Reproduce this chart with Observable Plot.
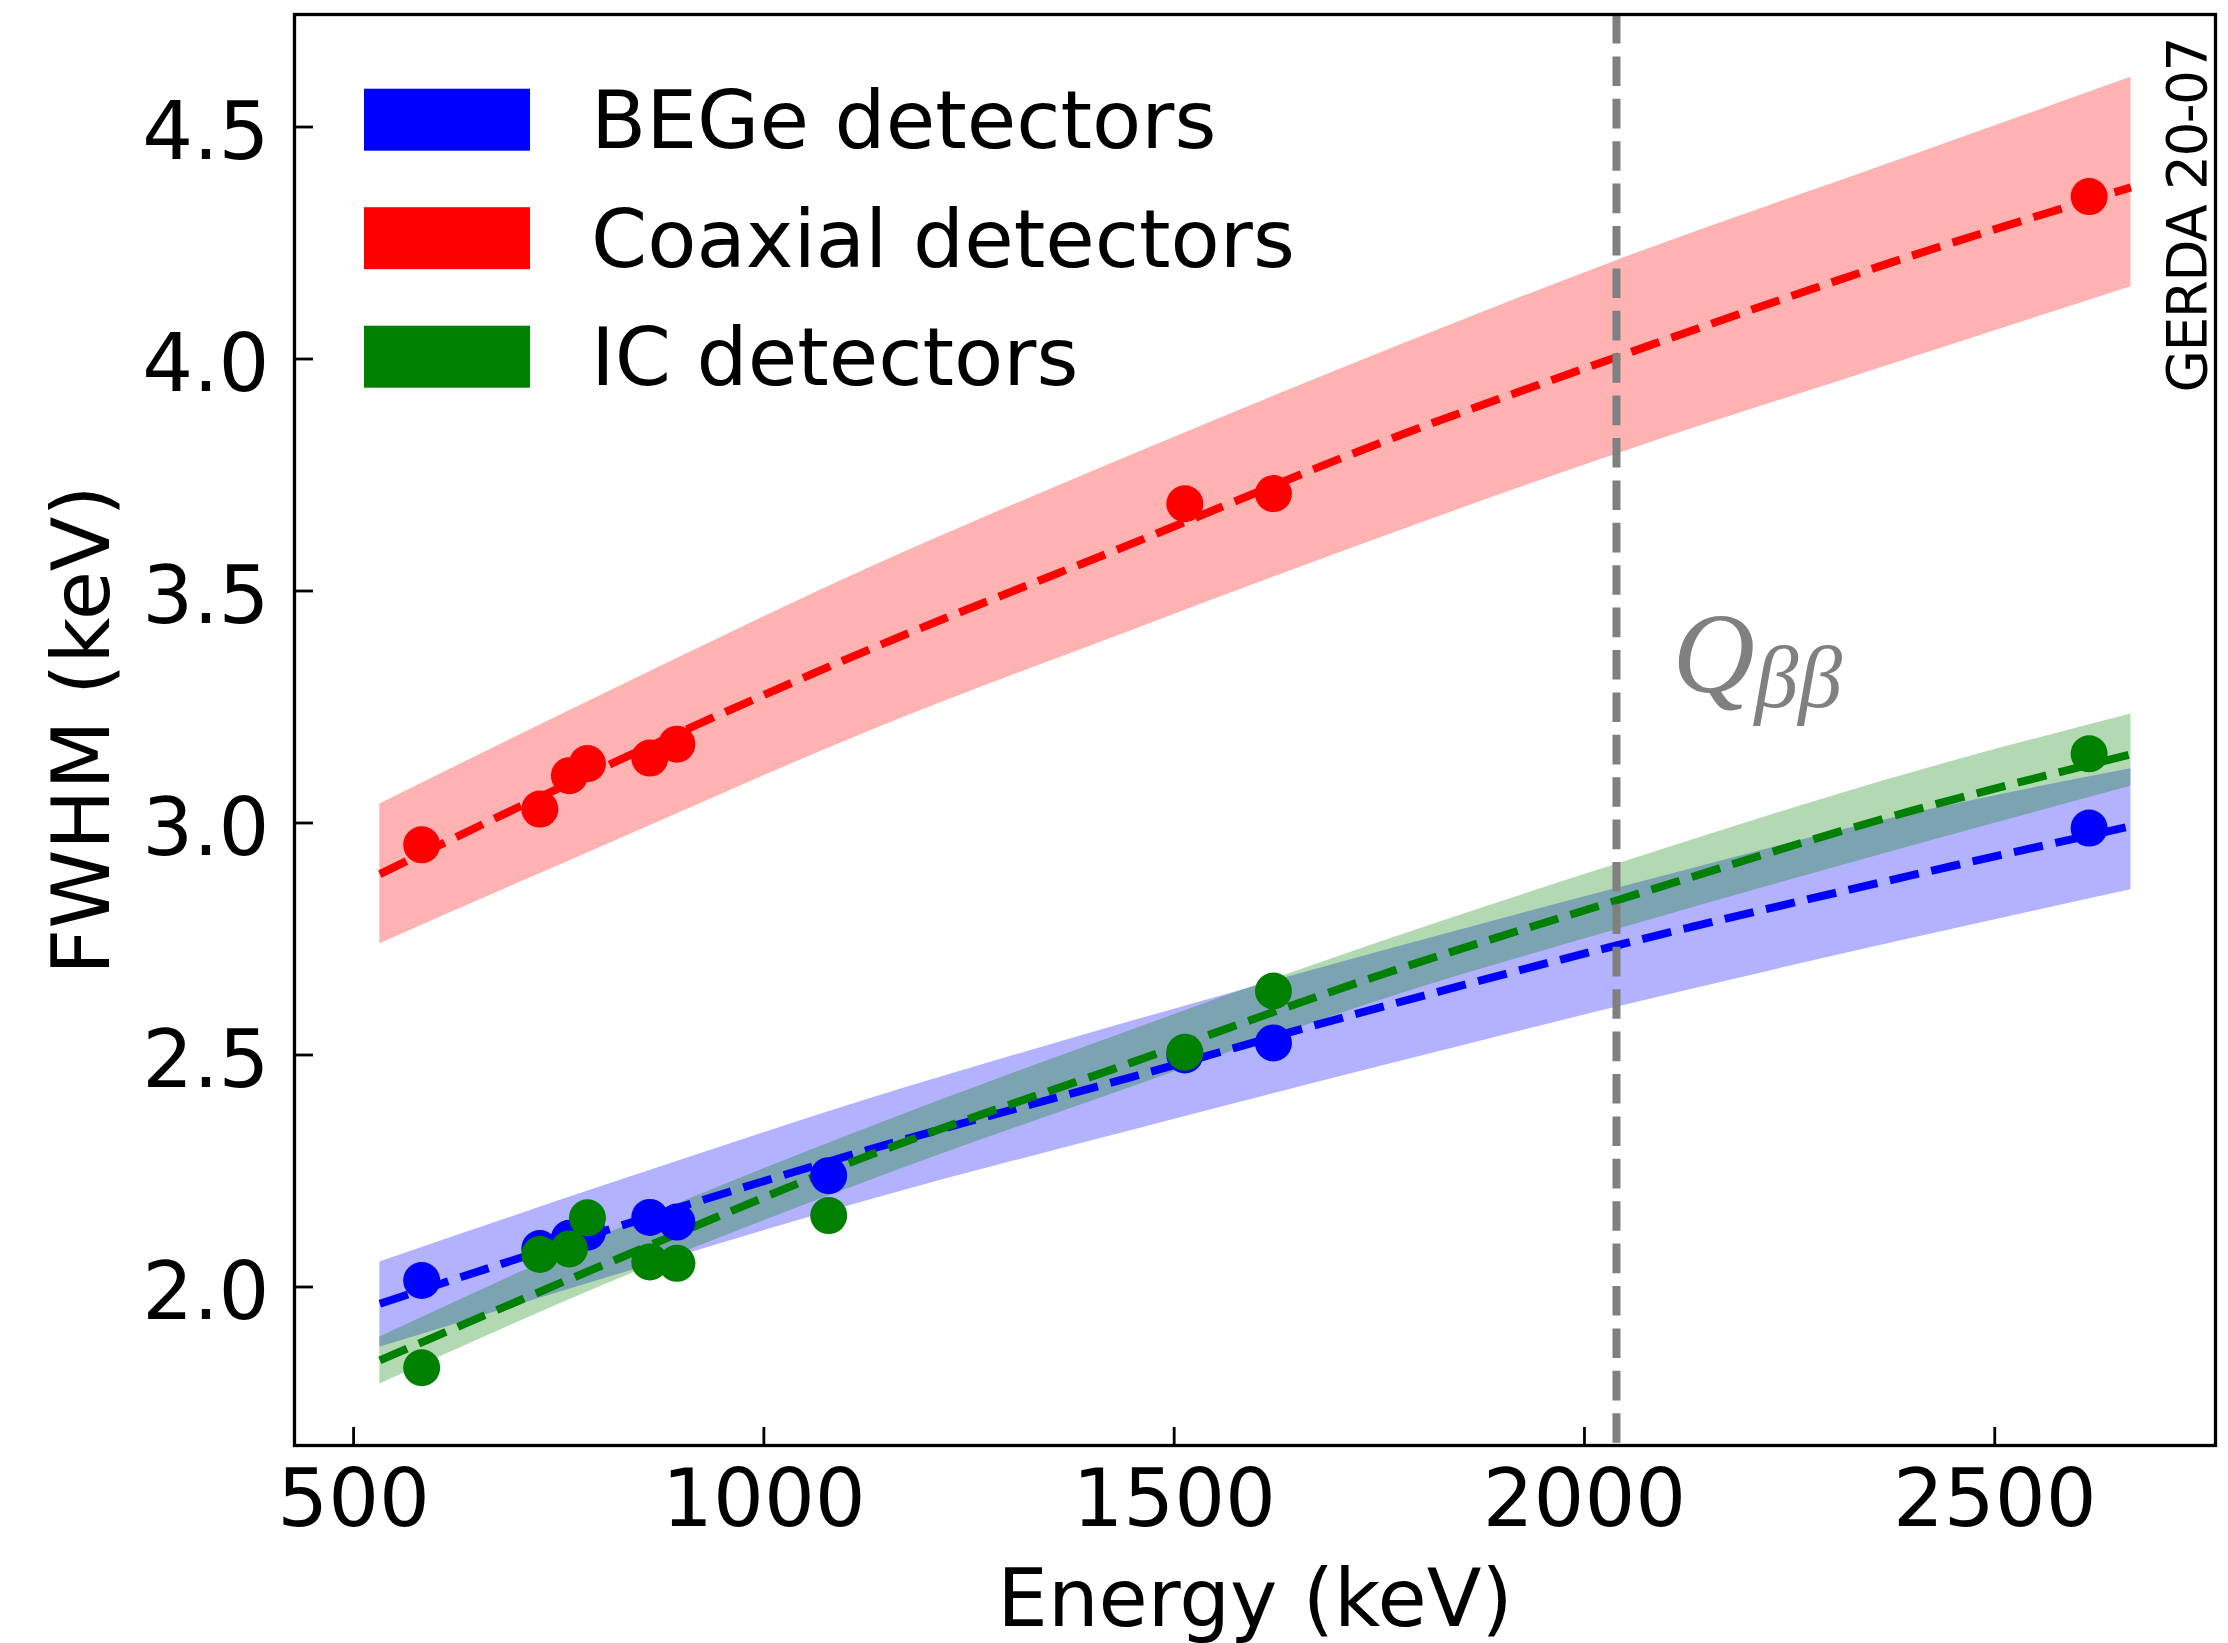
<!DOCTYPE html>
<html><head><meta charset="utf-8">
<script src="https://cdn.jsdelivr.net/npm/d3@7"></script>
<script src="https://cdn.jsdelivr.net/npm/@observablehq/plot@0.6"></script>
<style>html,body{margin:0;padding:0;background:#fff;} #chart{position:relative;width:2228px;height:1643px;}</style>
</head><body><div id="chart"></div>
<script>
// ---- data ----
const seriesNames = ["BEGe detectors", "Coaxial detectors", "IC detectors"];
const seriesColors = ["#0000ff", "#ff0000", "#008000"];

const begeEnergy = [583, 727, 763, 785, 861, 894, 1079, 1513, 1621, 2615];
const begeFwhm   = [2.014, 2.083, 2.105, 2.118, 2.150, 2.140, 2.240, 2.500, 2.526, 2.989];
const coaxEnergy = [583, 727, 763, 785, 861, 894, 1513, 1621, 2615];
const coaxFwhm   = [2.953, 3.030, 3.102, 3.128, 3.140, 3.170, 3.688, 3.710, 4.350];
const icEnergy   = [583, 727, 763, 785, 861, 894, 1079, 1513, 1621, 2615];
const icFwhm     = [1.826, 2.070, 2.082, 2.149, 2.054, 2.051, 2.154, 2.506, 2.638, 3.149];

const bandEnergy = [532, 813, 1130, 1447, 1764, 2039, 2398, 2666];
const begeFit    = [1.964, 2.125, 2.297, 2.452, 2.609, 2.736, 2.887, 2.993];
const begeLower  = [1.870, 2.022, 2.188, 2.337, 2.481, 2.603, 2.751, 2.856];
const begeUpper  = [2.054, 2.223, 2.406, 2.572, 2.729, 2.859, 3.020, 3.117];
const coaxFit    = [2.890, 3.127, 3.375, 3.601, 3.828, 4.004, 4.222, 4.370];
const coaxLower  = [2.740, 2.957, 3.199, 3.414, 3.623, 3.795, 4.002, 4.156];
const coaxUpper  = [3.041, 3.285, 3.551, 3.792, 4.022, 4.212, 4.438, 4.607];
const icFit      = [1.842, 2.054, 2.285, 2.483, 2.680, 2.833, 3.026, 3.148];
const icLower    = [1.791, 2.010, 2.230, 2.430, 2.625, 2.770, 2.950, 3.079];
const icUpper    = [1.892, 2.118, 2.345, 2.553, 2.751, 2.911, 3.108, 3.235];

const qbbEnergy = 2039;
const xTicks = [500, 1000, 1500, 2000, 2500];
const yTicks = [2.0, 2.5, 3.0, 3.5, 4.0, 4.5];
const xDomain = [428, 2769];
const yDomain = [1.6584, 4.7425];

// ---- build tables ----
const band = (lo, hi, fit) => bandEnergy.map((e, i) => ({E: e, lo: lo[i], hi: hi[i], fit: fit[i]}));
const pts = (E, F) => E.map((e, i) => ({E: e, F: F[i]}));
const series = [
  {name: seriesNames[0], color: seriesColors[0], band: band(begeLower, begeUpper, begeFit), pts: pts(begeEnergy, begeFwhm)},
  {name: seriesNames[1], color: seriesColors[1], band: band(coaxLower, coaxUpper, coaxFit), pts: pts(coaxEnergy, coaxFwhm)},
  {name: seriesNames[2], color: seriesColors[2], band: band(icLower, icUpper, icFit), pts: pts(icEnergy, icFwhm)}
];

const W = 2228, H = 1643;
const mL = 294, mT = 14, mR = 13, mB = 198;
const frameW = W - mL - mR, frameH = H - mT - mB;
const dash = "29.6,12.8";

const plot = Plot.plot({
  width: W, height: H,
  marginLeft: mL, marginTop: mT, marginRight: mR, marginBottom: mB,
  style: {fontFamily: "'DejaVu Sans', sans-serif", background: "white", color: "black"},
  x: {domain: xDomain},
  y: {domain: yDomain},
  marks: [
    ...series.map(s => Plot.areaY(s.band, {x: "E", y1: "lo", y2: "hi", fill: s.color, fillOpacity: 0.3, curve: "monotone-x"})),
    ...series.map(s => Plot.line(s.band, {x: "E", y: "fit", stroke: s.color, strokeWidth: 8, strokeDasharray: dash, strokeLinecap: "butt", curve: "monotone-x"})),
    Plot.ruleX([qbbEnergy], {x: d => d, stroke: "#808080", strokeWidth: 8, strokeDasharray: dash}),
    ...series.map(s => Plot.dot(s.pts, {x: "E", y: "F", r: 18.5, fill: s.color})),
    Plot.tickX(xTicks, {x: d => d, insetTop: frameH - 18, stroke: "black", strokeWidth: 2.8}),
    Plot.tickY(yTicks, {y: d => d, insetRight: frameW - 19, stroke: "black", strokeWidth: 2.8}),
    Plot.frame({stroke: "black", strokeWidth: 3.3}),
    Plot.axisX(xTicks, {tickSize: 0, tickPadding: 24, fontSize: 80, tickFormat: d3.format("d"), label: null}),
    Plot.axisY(yTicks, {tickSize: 0, tickPadding: 25, fontSize: 80, tickFormat: d3.format(".1f"), label: null, dy: 6}),
    Plot.text(["Energy (keV)"], {text: d => d, frameAnchor: "bottom", textAnchor: "middle", lineAnchor: "bottom", dy: 180, fontSize: 80}),
    Plot.text(["FWHM (keV)"], {text: d => d, frameAnchor: "left", rotate: -90, textAnchor: "middle", lineAnchor: "bottom", dx: -186, fontSize: 80}),
    Plot.text(["GERDA 20-07"], {text: d => d, frameAnchor: "top-right", rotate: -90, textAnchor: "start", lineAnchor: "bottom", dx: -10, dy: 378, fontSize: 55}),
    Plot.text([qbbEnergy], {x: d => d, frameAnchor: "top", text: () => "Q", fontSize: 114, fontStyle: "italic", fontFamily: "'Liberation Serif', serif", fill: "#808080", textAnchor: "start", lineAnchor: "bottom", dx: 56, dy: 677}),
    Plot.text([qbbEnergy], {x: d => d, frameAnchor: "top", text: () => "ββ", fontSize: 88, fontStyle: "italic", fontFamily: "'Liberation Serif', serif", fill: "#808080", textAnchor: "start", lineAnchor: "bottom", dx: 138, dy: 692})
  ]
});

const svg = d3.select(plot);
// widen the GERDA stamp lettering to the reference's length
svg.selectAll("text").filter(function() { return this.textContent === "GERDA 20-07"; })
  .attr("textLength", 356).attr("lengthAdjust", "spacing");

// legend inside the frame (upper left)
const lg = svg.append("g").attr("class", "legend").attr("text-anchor", "start");
series.forEach((s, i) => {
  lg.append("rect").attr("x", 364).attr("y", 88.7 + i * 118.5).attr("width", 166).attr("height", 62).attr("fill", s.color);
  lg.append("text").attr("x", 591).attr("y", 148 + i * 118.5).attr("font-size", 80.5)
    .attr("text-anchor", "start")
    .attr("font-family", "'DejaVu Sans', sans-serif").attr("fill", "black").text(s.name);
});

document.getElementById("chart").append(plot);
</script>
</body></html>
